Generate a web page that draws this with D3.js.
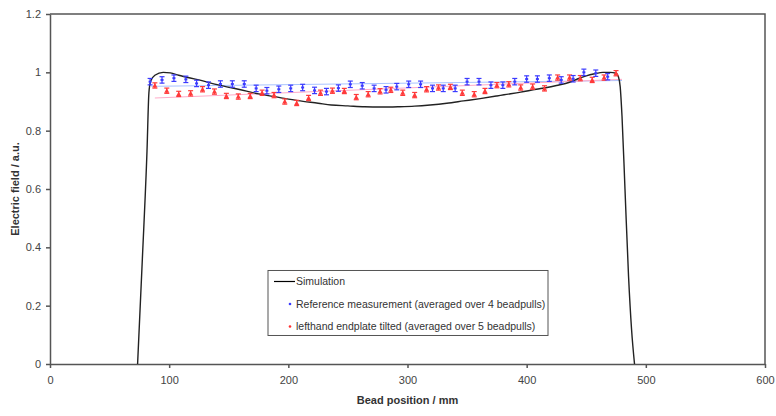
<!DOCTYPE html>
<html>
<head>
<meta charset="utf-8">
<script src="https://cdn.jsdelivr.net/npm/d3@7"></script>
<style>
  body { margin: 0; background: #fff; }
  svg { display: block; font-family: "Liberation Sans", Arial, sans-serif; }
  .axis path, .axis line { stroke: #555; stroke-width: 1.5; }
  .axis text { fill: #444; font-size: 11px; }
</style>
</head>
<body>
<svg></svg>
<script>
/* global d3 */

// simulation curve (bead position mm, field a.u.)
const simX = [73.5, 77.5, 81.4, 83, 84.5, 88, 95, 101, 108, 125, 142, 158, 175, 192, 208, 225,
  236, 250, 264, 278, 292, 306, 319, 333, 347, 361, 375, 381, 395, 408, 417, 425, 436, 443,
  450, 457, 464, 470, 475, 477, 478.5, 480, 482.5, 485.5, 488, 490.5];
const simY = [0, 0.36, 0.73, 0.93, 0.97, 0.99, 1.0, 0.998, 0.99, 0.974, 0.956, 0.942, 0.926, 0.914, 0.903, 0.894,
  0.888, 0.885, 0.882, 0.881, 0.882, 0.884, 0.888, 0.894, 0.902, 0.91, 0.919, 0.923, 0.932, 0.942, 0.948, 0.955, 0.966, 0.978,
  0.988, 0.995, 1.0, 1.0, 0.997, 0.985, 0.95, 0.85, 0.6, 0.3, 0.12, 0];

// reference measurement (averaged over 4 beadpulls)
const refX = [84, 94, 104, 114, 123, 133, 143, 153, 163, 173, 182, 192, 202, 212, 222, 232, 242, 252, 262, 272,
  282, 291, 301, 311, 321, 330, 340, 350, 360, 370, 380, 390, 400, 409, 419, 429, 439, 448, 458, 468];
const refY = [0.968, 0.974, 0.98, 0.976, 0.962, 0.956, 0.96, 0.96, 0.96, 0.945, 0.937, 0.942, 0.945, 0.948, 0.938, 0.934, 0.946, 0.959, 0.954, 0.945,
  0.94, 0.951, 0.959, 0.959, 0.945, 0.945, 0.945, 0.968, 0.968, 0.956, 0.956, 0.968, 0.977, 0.977, 0.98, 0.974, 0.978, 1.0, 0.997, 0.985];
const REF_ERR = 0.011;

// lefthand endplate tilted (averaged over 5 beadpulls)
const tiltX = [88, 98, 108, 118, 128, 138, 148, 158, 168, 178, 188, 197, 207, 217, 227, 237, 247, 257, 267, 277,
  286, 296, 306, 316, 326, 336, 346, 356, 365, 375, 385, 395, 405, 415, 426, 436, 445, 455, 465, 475];
const tiltY = [0.955, 0.937, 0.926, 0.928, 0.942, 0.934, 0.919, 0.917, 0.919, 0.93, 0.922, 0.9, 0.895, 0.912, 0.93, 0.937, 0.936, 0.915, 0.925, 0.935,
  0.94, 0.93, 0.922, 0.942, 0.948, 0.95, 0.93, 0.925, 0.936, 0.956, 0.959, 0.948, 0.951, 0.945, 0.982, 0.982, 0.98, 0.974, 0.982, 0.997];
const TILT_ERR = 0.009;

// linear trend lines: [x, y] at both ends
const refTrend = [[85, 0.952], [480, 0.972]];
const tiltTrend = [[88, 0.912], [480, 0.976]];

const xTicks = [0, 100, 200, 300, 400, 500, 600];
const yTicks = [0, 0.2, 0.4, 0.6, 0.8, 1, 1.2];

const legendItems = [
  { label: 'Simulation', type: 'line', color: '#000' },
  { label: 'Reference measurement (averaged over 4 beadpulls)', type: 'dot', color: '#3b3bff' },
  { label: 'lefthand endplate tilted (averaged over 5 beadpulls)', type: 'dot', color: '#ff3030' },
];

//-------------------------------------------------

const WIDTH  = 776;
const HEIGHT = 416;
const margin = { top: 14, right: 11, bottom: 52, left: 50 };
const width  = WIDTH  - margin.left - margin.right;
const height = HEIGHT - margin.top - margin.bottom;

const x = d3.scaleLinear().domain([0, 600]).range([0, width]);
const y = d3.scaleLinear().domain([0, 1.2]).range([height, 0]);

const svg = d3.select('svg')
  .attr('width', WIDTH)
  .attr('height', HEIGHT)
  .append('g')
  .attr('transform', `translate(${margin.left},${margin.top})`);

// plot frame (top and right)
svg.append('path')
  .attr('d', `M0,0H${width}V${height}`)
  .attr('fill', 'none')
  .attr('stroke', '#555')
  .attr('stroke-width', 1.5);

svg.append('g')
  .attr('class', 'axis')
  .attr('transform', `translate(0,${height})`)
  .call(d3.axisBottom(x).tickValues(xTicks).tickSize(4).tickSizeOuter(0).tickPadding(8))
  .call(g => g.selectAll('text').attr('font-family', 'Liberation Sans, Arial, sans-serif'));

svg.append('g')
  .attr('class', 'axis')
  .call(d3.axisLeft(y).tickValues(yTicks).tickSize(4).tickSizeOuter(0).tickPadding(5)
    .tickFormat(d3.format('~g')))
  .call(g => g.selectAll('text').attr('font-family', 'Liberation Sans, Arial, sans-serif'));

svg.append('text')
  .attr('x', x(300))
  .attr('y', height + 40)
  .attr('text-anchor', 'middle')
  .attr('font-size', 11)
  .attr('font-weight', 'bold')
  .attr('fill', '#333')
  .text('Bead position / mm');

svg.append('text')
  .attr('transform', `translate(${-31},${height / 2}) rotate(-90)`)
  .attr('text-anchor', 'middle')
  .attr('font-size', 11)
  .attr('font-weight', 'bold')
  .attr('fill', '#333')
  .text('Electric field / a.u.');

// trend lines
const trendLine = d3.line().x(d => x(d[0])).y(d => y(d[1]));
svg.append('path').attr('d', trendLine(refTrend))
  .attr('stroke', '#a9c4ff').attr('stroke-width', 1).attr('fill', 'none');
svg.append('path').attr('d', trendLine(tiltTrend))
  .attr('stroke', '#ffaac8').attr('stroke-width', 1).attr('fill', 'none');

// simulation
const simData = simX.map((v, i) => [v, simY[i]]);
svg.append('path')
  .attr('d', d3.line().x(d => x(d[0])).y(d => y(d[1])).curve(d3.curveMonotoneX)(simData))
  .attr('fill', 'none')
  .attr('stroke', '#222')
  .attr('stroke-width', 1.4);

const drawErrorSeries = function (xs, ys, err, color, marker) {
  const data = xs.map((v, i) => ({ x: v, y: ys[i] }));
  const g = svg.append('g').attr('stroke', color).attr('fill', color);
  const pts = g.selectAll('g').data(data).enter().append('g')
    .attr('transform', d => `translate(${x(d.x)},0)`);
  pts.append('line')
    .attr('y1', d => y(d.y - err)).attr('y2', d => y(d.y + err))
    .attr('stroke-width', 1.2);
  pts.append('line')
    .attr('x1', -2.5).attr('x2', 2.5)
    .attr('y1', d => y(d.y + err)).attr('y2', d => y(d.y + err))
    .attr('stroke-width', 1.2);
  pts.append('line')
    .attr('x1', -2.5).attr('x2', 2.5)
    .attr('y1', d => y(d.y - err)).attr('y2', d => y(d.y - err))
    .attr('stroke-width', 1.2);
  if (marker === 'tri') {
    pts.append('path')
      .attr('d', d => `M-2.5,${y(d.y) + 2}L2.5,${y(d.y) + 2}L0,${y(d.y) - 2.5}Z`)
      .attr('stroke', 'none');
  } else {
    pts.append('rect')
      .attr('x', -1.5).attr('width', 3)
      .attr('y', d => y(d.y) - 1).attr('height', 2)
      .attr('stroke', 'none');
  }
};

drawErrorSeries(tiltX, tiltY, TILT_ERR, '#ff3a3a', 'tri');
drawErrorSeries(refX, refY, REF_ERR, '#3a3aff', 'dash');

// legend
const legend = svg.append('g')
  .attr('transform', `translate(${218},${y(0.3206)})`);

legend.append('rect')
  .attr('width', 280)
  .attr('height', 65)
  .attr('fill', '#fff')
  .attr('stroke', '#555')
  .attr('stroke-width', 1);

const rows = legend.selectAll('.row').data(legendItems).enter().append('g')
  .attr('class', 'row')
  .attr('transform', (d, i) => `translate(0,${11 + i * 22.5})`);

rows.filter(d => d.type === 'line').append('line')
  .attr('x1', 6).attr('x2', 27)
  .attr('stroke', d => d.color)
  .attr('stroke-width', 1.2);

rows.filter(d => d.type === 'dot').append('circle')
  .attr('cx', 22).attr('r', 1.3)
  .attr('fill', d => d.color);

rows.append('text')
  .attr('x', 28)
  .attr('dy', '0.35em')
  .attr('font-size', 10.5)
  .attr('fill', '#333')
  .text(d => d.label);
</script>
</body>
</html>
